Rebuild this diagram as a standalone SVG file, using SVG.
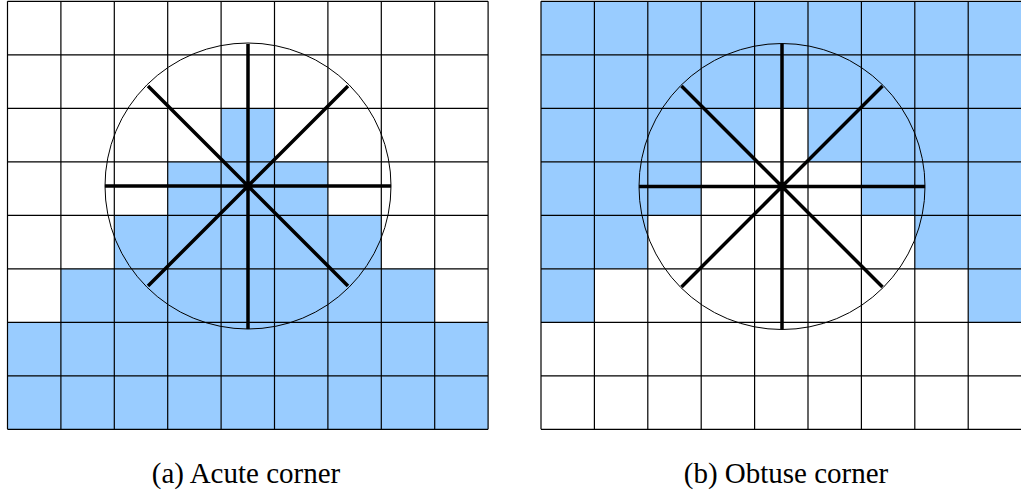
<svg xmlns="http://www.w3.org/2000/svg" width="1021" height="496" viewBox="0 0 1021 496">
<style>
.fill{fill:#99ccff;stroke:none}
.grid{fill:none;stroke:#000;stroke-width:1.2}
.circ{fill:none;stroke:#000;stroke-width:1}
.spoke{stroke:#000;stroke-width:3.5;stroke-linecap:butt}
.lbl{font-family:"Liberation Serif","Times New Roman",serif;font-size:29px;fill:#000;text-anchor:middle}
</style>
<rect width="1021" height="496" fill="#fff"/>
<g id="acute">
<g class="fill">
<rect x="221.1" y="108.3" width="53.4" height="53.5"/>
<rect x="167.7" y="161.8" width="160.2" height="53.5"/>
<rect x="114.3" y="215.3" width="267" height="53.5"/>
<rect x="60.9" y="268.8" width="373.8" height="53.5"/>
<rect x="7.5" y="322.3" width="480.6" height="107"/>
</g>
<path class="grid" d="M7.5 1.3V429.3M60.9 1.3V429.3M114.3 1.3V429.3M167.7 1.3V429.3M221.1 1.3V429.3M274.5 1.3V429.3M327.9 1.3V429.3M381.3 1.3V429.3M434.7 1.3V429.3M488.1 1.3V429.3M7.5 1.3H488.1M7.5 54.8H488.1M7.5 108.3H488.1M7.5 161.8H488.1M7.5 215.3H488.1M7.5 268.8H488.1M7.5 322.3H488.1M7.5 375.8H488.1M7.5 429.3H488.1"/>
<circle class="circ" cx="248" cy="186" r="143"/>
<path class="spoke" d="M105 186H391M248 44V329M148 86L348 286M148 286L348 86"/>
<text class="lbl" x="246" y="483">(a) Acute corner</text>
</g>
<g id="obtuse">
<g class="fill">
<rect x="541" y="1.3" width="480.6" height="107"/>
<rect x="541" y="108.3" width="213.6" height="53.5"/>
<rect x="808" y="108.3" width="213.6" height="53.5"/>
<rect x="541" y="161.8" width="160.2" height="53.5"/>
<rect x="861.4" y="161.8" width="160.2" height="53.5"/>
<rect x="541" y="215.3" width="106.8" height="53.5"/>
<rect x="914.8" y="215.3" width="106.8" height="53.5"/>
<rect x="541" y="268.8" width="53.4" height="53.5"/>
<rect x="968.2" y="268.8" width="53.4" height="53.5"/>
</g>
<path class="grid" d="M541 1.3V429.3M594.4 1.3V429.3M647.8 1.3V429.3M701.2 1.3V429.3M754.6 1.3V429.3M808 1.3V429.3M861.4 1.3V429.3M914.8 1.3V429.3M968.2 1.3V429.3M541 1.3H1021M541 54.8H1021M541 108.3H1021M541 161.8H1021M541 215.3H1021M541 268.8H1021M541 322.3H1021M541 375.8H1021M541 429.3H1021"/>
<circle class="circ" cx="782" cy="186.5" r="143"/>
<path class="spoke" d="M639 186.5H925M782 44V329M681.5 86L882.5 287M681.5 287L882.5 86"/>
<text class="lbl" x="786" y="483">(b) Obtuse corner</text>
</g>
</svg>
